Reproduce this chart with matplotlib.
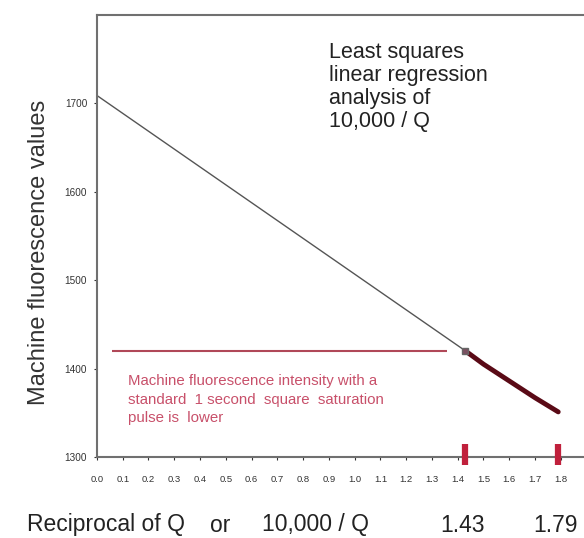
import numpy as np
import matplotlib.pyplot as plt

plt.rcParams['font.family'] = ['Liberation Sans', 'DejaVu Sans']

# regression line (10,000/Q) and measured curve
fit_x = [0.0, 1.43]
fit_y = [1709, 1420]
meas_x = [1.43, 1.50, 1.60, 1.70, 1.79]
meas_y = [1420, 1405, 1386, 1367, 1351]
mark_x = [1.43, 1.79]
mark_lbl = ['1.43', '1.79']
level_y = 1420
level_x = [0.06, 1.36]
xticks = np.round(np.arange(0, 1.81, 0.1), 1)
yticks = [1300, 1400, 1500, 1600, 1700]

fig = plt.figure(figsize=(5.84, 5.38), dpi=100)
ax = fig.add_axes([0.166, 0.1506, 0.834, 0.8214])

ax.plot(fit_x, fit_y, color='#555555', lw=1.0)
ax.plot(meas_x, meas_y, color='#5a0a16', lw=3.5, solid_capstyle='round')
ax.plot([fit_x[-1]], [fit_y[-1]], 's', ms=5, mfc='#7a5060', mec='#666666')
ax.hlines(level_y, level_x[0], level_x[1], color='#b04858', lw=1.5)
ax.vlines(mark_x, 1291, 1315, color='#c0203c', lw=4.5, clip_on=False, zorder=5)

ax.text(0.90, 1769, 'Least squares\nlinear regression\nanalysis of\n10,000 / Q',
        fontsize=15.5, color='#222222', va='top', ha='left', linespacing=1.12)
ax.text(0.12, 1394, 'Machine fluorescence intensity with a\nstandard  1 second  square  saturation\npulse is  lower',
        fontsize=10.8, color='#c8506a', va='top', ha='left', linespacing=1.42)

ax.set_xlim(0, 1.89)
ax.set_ylim(1300, 1800)
ax.set_xticks(xticks)
ax.set_xticklabels(['%.1f' % t for t in xticks])
ax.set_yticks(yticks)
ax.tick_params(axis='x', labelsize=6.8, length=2, pad=11, colors='#333333')
ax.tick_params(axis='y', labelsize=7.2, length=2, pad=5, colors='#333333')
ax.spines['right'].set_visible(False)
for s in ['left', 'top', 'bottom']:
    ax.spines[s].set_color('#707070')
    ax.spines[s].set_linewidth(1.5)

ax.set_ylabel('Machine fluorescence values', fontsize=17, color='#333333')
ax.yaxis.set_label_coords(-0.097, 0.462)

fig.text(27 / 584, 1 - 525 / 538, 'Reciprocal of Q', fontsize=16.5, color='#222222', va='center', ha='left')
fig.text(210 / 584, 1 - 525 / 538, 'or', fontsize=16.5, color='#222222', va='center', ha='left')
fig.text(262 / 584, 1 - 525 / 538, '10,000 / Q', fontsize=16.5, color='#222222', va='center', ha='left')
tr = ax.get_xaxis_transform()
for x, l in zip(mark_x, mark_lbl):
    ax.text(x - 0.01, -0.155, l, transform=tr, fontsize=16.5, color='#222222', va='center', ha='center', clip_on=False)

fig.savefig('out.png', dpi=100, facecolor='white')
